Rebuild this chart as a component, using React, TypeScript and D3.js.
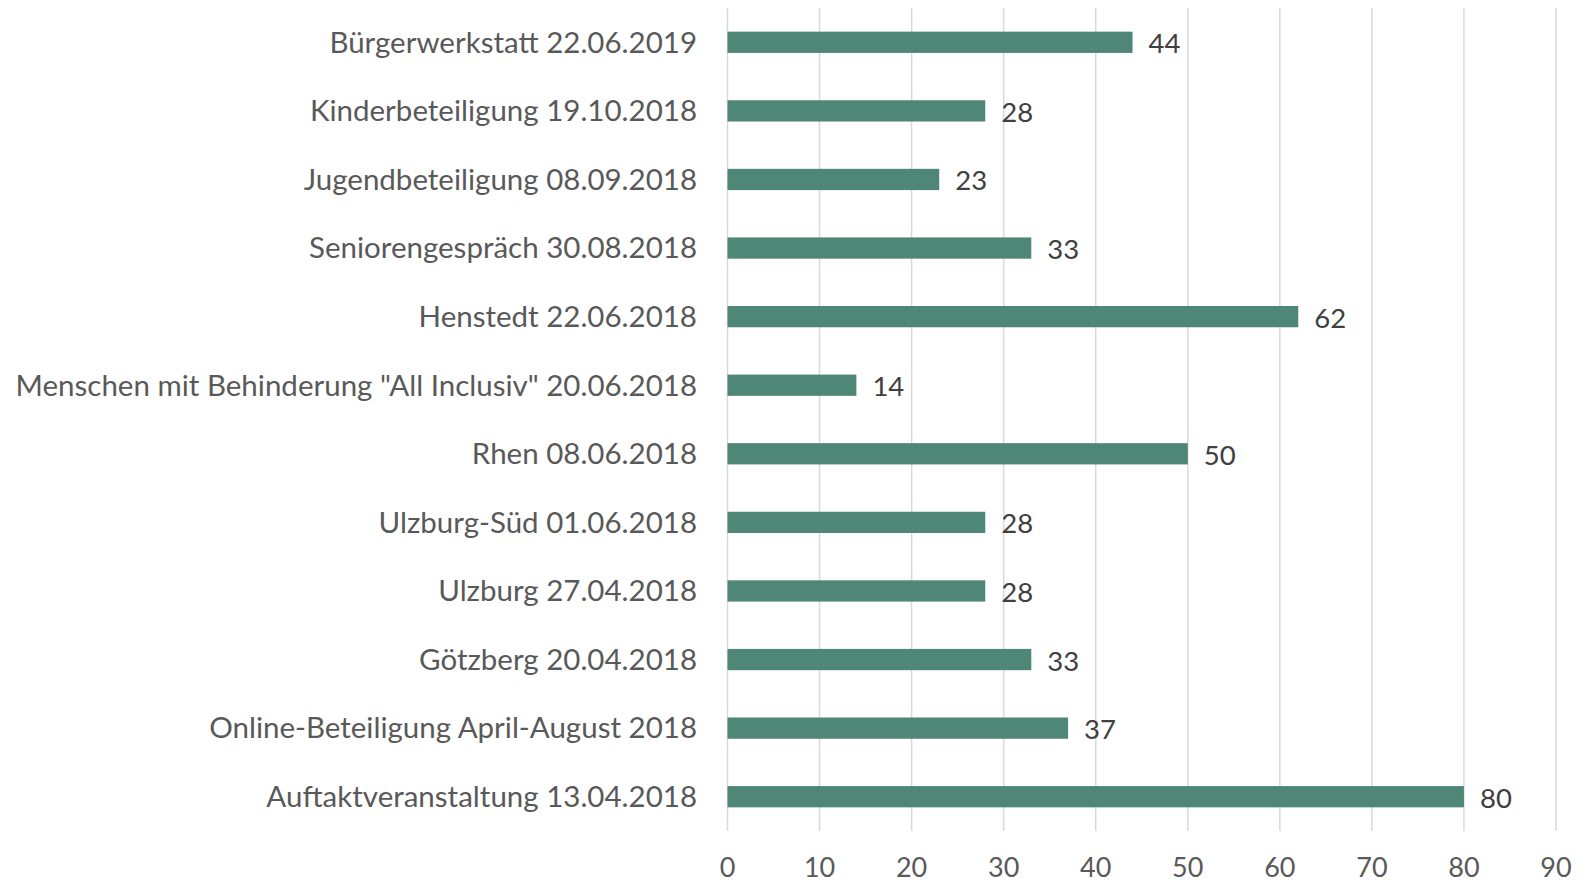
import React from "react";
import * as d3 from "d3";

const categories = [
  "Bürgerwerkstatt 22.06.2019",
  "Kinderbeteiligung 19.10.2018",
  "Jugendbeteiligung 08.09.2018",
  "Seniorengespräch 30.08.2018",
  "Henstedt 22.06.2018",
  'Menschen mit Behinderung "All Inclusiv" 20.06.2018',
  "Rhen 08.06.2018",
  "Ulzburg-Süd 01.06.2018",
  "Ulzburg 27.04.2018",
  "Götzberg 20.04.2018",
  "Online-Beteiligung April-August 2018",
  "Auftaktveranstaltung 13.04.2018",
];
const values = [44, 28, 23, 33, 62, 14, 50, 28, 28, 33, 37, 80];
const xTicks = [0, 10, 20, 30, 40, 50, 60, 70, 80, 90];

const W = 1585;
const H = 884;
const FONT = "Lato, 'Open Sans', sans-serif";

export default function App() {
  const x = d3.scaleLinear().domain([0, 90]).range([727.5, 1556]);
  const y = d3
    .scaleBand<string>()
    .domain(categories)
    .range([8, 831])
    .paddingInner(0.69)
    .paddingOuter(0.345);
  const bh = y.bandwidth();
  return (
    <svg
      width={W}
      height={H}
      style={{ position: "absolute", left: 0, top: 0, background: "#fff" }}
    >
      {xTicks.map((t) => (
        <line
          key={"g" + t}
          x1={x(t)}
          x2={x(t)}
          y1={8}
          y2={831}
          stroke="#d9d9d9"
          strokeWidth={1.5}
        />
      ))}
      {categories.map((c, i) => (
        <g key={c}>
          <rect
            x={x(0)}
            y={y(c)!}
            width={x(values[i]) - x(0)}
            height={bh}
            fill="#4e8777"
          />
          <text
            x={697}
            y={y(c)! + bh / 2}
            dy="0.35em"
            textAnchor="end"
            fontFamily={FONT}
            fontSize={29.5}
            fill="#595959"
          >
            {c}
          </text>
          <text
            x={x(values[i]) + 16}
            y={y(c)! + bh / 2}
            dy="0.4em"
            fontFamily={FONT}
            fontSize={27.5}
            fill="#404040"
          >
            {values[i]}
          </text>
        </g>
      ))}
      {xTicks.map((t) => (
        <text
          key={"t" + t}
          x={x(t)}
          y={868}
          dy="0.35em"
          textAnchor="middle"
          fontFamily={FONT}
          fontSize={27}
          fill="#595959"
        >
          {t}
        </text>
      ))}
    </svg>
  );
}
